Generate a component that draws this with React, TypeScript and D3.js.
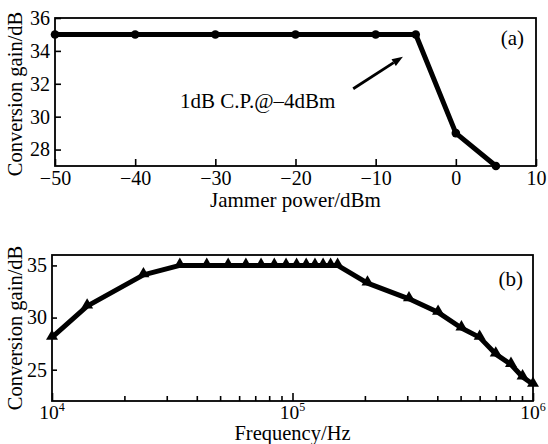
import React, { useEffect, useRef } from "react";
import {
  select,
  scaleLinear,
  scaleLog,
  axisBottom,
  axisLeft,
  line,
  symbol,
  symbolTriangle,
} from "d3";

// panel (a): gain vs jammer power
const jammerPower = [-50, -40, -30, -20, -10, -5, 0, 5];
const gainJammer = [35, 35, 35, 35, 35, 35, 29, 27];
const powerTicks = [-50, -40, -30, -20, -10, 0, 10];
const gainTicksA = [28, 30, 32, 34, 36];

// panel (b): gain vs frequency
const frequency = [
  10000, 14000, 24000, 34000, 44000, 54000, 64000, 74000, 84000, 94000,
  104000, 114000, 124000, 134000, 144000, 154000, 205000, 305000, 403000,
  504000, 600000, 700000, 810000, 905000, 1000000,
];
const gainFreq = [
  28.1, 31.1, 34.1, 35, 35, 35, 35, 35, 35, 35, 35, 35, 35, 35, 35, 35, 33.3,
  31.8, 30.5, 29.0, 28.1, 26.5, 25.5, 24.3, 23.6,
];
const freqMajor = [1e4, 1e5, 1e6];
const freqExp = ["4", "5", "6"];
const freqMinor = [
  2e4, 3e4, 4e4, 5e4, 6e4, 7e4, 8e4, 9e4, 2e5, 3e5, 4e5, 5e5, 6e5, 7e5, 8e5,
  9e5,
];
const gainTicksB = [25, 30, 35];

// annotation in panel (a), data units
const noteText = "1dB C.P.@\u20134dBm";
const notePos = [-34.4, 30.55];
const arrowFrom = [-12.8, 31.7];
const arrowTo = [-6.6, 33.65];

const W = 548;
const H = 444;
const FONT = "Liberation Serif, Times New Roman, Times, serif";
const A = { left: 55, right: 536, top: 18, bottom: 166 };
const B = { left: 52, right: 533, top: 255, bottom: 401 };

const App = () => {
  const svgRef = useRef(null);

  useEffect(() => {
    const svg = select(svgRef.current);
    svg.selectAll("*").remove();

    const styleAxis = (g) => {
      g.select(".domain").remove();
      g.selectAll(".tick line").attr("stroke", "#000").attr("stroke-width", 1.6);
      g.attr("font-family", FONT).attr("font-size", 20);
      g.selectAll(".tick text").attr("fill", "#000");
    };

    // ---------- (a) ----------
    const xA = scaleLinear().domain([-50, 10]).range([A.left, A.right]);
    const yA = scaleLinear().domain([27, 36]).range([A.bottom, A.top]);

    svg
      .append("g")
      .attr("transform", `translate(0,${A.bottom})`)
      .call(axisBottom(xA).tickValues(powerTicks).tickSize(-7).tickPadding(5))
      .call(styleAxis);
    svg
      .append("g")
      .attr("transform", `translate(${A.left},0)`)
      .call(axisLeft(yA).tickValues(gainTicksA).tickSize(-6).tickPadding(5))
      .call(styleAxis);

    svg
      .append("rect")
      .attr("x", A.left)
      .attr("y", A.top)
      .attr("width", A.right - A.left)
      .attr("height", A.bottom - A.top)
      .attr("fill", "none")
      .attr("stroke", "#000")
      .attr("stroke-width", 1.8);

    const lineA = line()
      .x((d, i) => xA(jammerPower[i]))
      .y((d) => yA(d));
    svg
      .append("path")
      .attr("d", lineA(gainJammer))
      .attr("fill", "none")
      .attr("stroke", "#000")
      .attr("stroke-width", 5)
      .attr("stroke-linejoin", "round");
    svg
      .selectAll(".dotA")
      .data(gainJammer)
      .join("circle")
      .attr("class", "dotA")
      .attr("cx", (d, i) => xA(jammerPower[i]))
      .attr("cy", (d) => yA(d))
      .attr("r", 4.3)
      .attr("fill", "#000");

    // arrow + note
    const ax0 = xA(arrowFrom[0]),
      ay0 = yA(arrowFrom[1]),
      ax1 = xA(arrowTo[0]),
      ay1 = yA(arrowTo[1]);
    const ang = Math.atan2(ay1 - ay0, ax1 - ax0);
    const hl = 11,
      hw = 4;
    const bx = ax1 - hl * Math.cos(ang),
      by = ay1 - hl * Math.sin(ang);
    svg
      .append("line")
      .attr("x1", ax0)
      .attr("y1", ay0)
      .attr("x2", bx)
      .attr("y2", by)
      .attr("stroke", "#000")
      .attr("stroke-width", 2.8);
    svg
      .append("path")
      .attr(
        "d",
        `M${ax1},${ay1}L${bx + hw * Math.sin(ang)},${by - hw * Math.cos(ang)}L${
          bx - hw * Math.sin(ang)
        },${by + hw * Math.cos(ang)}Z`
      )
      .attr("fill", "#000");
    svg
      .append("text")
      .attr("x", xA(notePos[0]))
      .attr("y", yA(notePos[1]))
      .attr("font-family", FONT)
      .attr("font-size", 21)
      .text(noteText);

    svg
      .append("text")
      .attr("x", A.right - 12)
      .attr("y", A.top + 27)
      .attr("text-anchor", "end")
      .attr("font-family", FONT)
      .attr("font-size", 21)
      .text("(a)");

    svg
      .append("text")
      .attr("transform", `translate(22,${(A.top + A.bottom) / 2 + 2}) rotate(-90)`)
      .attr("text-anchor", "middle")
      .attr("font-family", FONT)
      .attr("font-size", 20.5)
      .text("Conversion gain/dB");
    svg
      .append("text")
      .attr("x", (A.left + A.right) / 2)
      .attr("y", 207)
      .attr("text-anchor", "middle")
      .attr("font-family", FONT)
      .attr("font-size", 21)
      .text("Jammer power/dBm");

    // ---------- (b) ----------
    const xB = scaleLog().domain([1e4, 1e6]).range([B.left, B.right]);
    const yB = scaleLinear().domain([22, 36]).range([B.bottom, B.top]);

    svg
      .append("g")
      .attr("transform", `translate(0,${B.bottom})`)
      .call(axisBottom(xB).tickValues(freqMinor).tickSize(-5).tickFormat(() => ""))
      .call(styleAxis);
    svg
      .append("g")
      .attr("transform", `translate(0,${B.bottom})`)
      .call(axisBottom(xB).tickValues(freqMajor).tickSize(-8).tickFormat(() => ""))
      .call(styleAxis);
    svg
      .append("g")
      .attr("transform", `translate(${B.left},0)`)
      .call(axisLeft(yB).tickValues(gainTicksB).tickSize(-5).tickPadding(5))
      .call(styleAxis);

    const lbl = svg
      .selectAll(".lblB")
      .data(freqMajor)
      .join("text")
      .attr("class", "lblB")
      .attr("x", (d) => xB(d))
      .attr("y", 419)
      .attr("text-anchor", "middle")
      .attr("font-family", FONT)
      .attr("font-size", 19.5);
    lbl.append("tspan").text("10");
    lbl
      .append("tspan")
      .attr("dy", -8)
      .attr("font-size", 12)
      .text((d, i) => freqExp[i]);

    svg
      .append("rect")
      .attr("x", B.left)
      .attr("y", B.top)
      .attr("width", B.right - B.left)
      .attr("height", B.bottom - B.top)
      .attr("fill", "none")
      .attr("stroke", "#000")
      .attr("stroke-width", 1.8);

    const lineB = line()
      .x((d, i) => xB(frequency[i]))
      .y((d) => yB(d));
    svg
      .append("path")
      .attr("d", lineB(gainFreq))
      .attr("fill", "none")
      .attr("stroke", "#000")
      .attr("stroke-width", 5)
      .attr("stroke-linejoin", "round");

    const tri = symbol().type(symbolTriangle).size(62);
    svg
      .selectAll(".triB")
      .data(gainFreq)
      .join("path")
      .attr("class", "triB")
      .attr("d", tri)
      .attr("fill", "#000")
      .attr("transform", (d, i) => `translate(${xB(frequency[i])},${yB(d) - 1})`);

    svg
      .append("text")
      .attr("x", B.right - 10)
      .attr("y", B.top + 31)
      .attr("text-anchor", "end")
      .attr("font-family", FONT)
      .attr("font-size", 21)
      .text("(b)");

    svg
      .append("text")
      .attr("transform", `translate(22,${(B.top + B.bottom) / 2}) rotate(-90)`)
      .attr("text-anchor", "middle")
      .attr("font-family", FONT)
      .attr("font-size", 20.5)
      .text("Conversion gain/dB");
    svg
      .append("text")
      .attr("x", (B.left + B.right) / 2)
      .attr("y", 440)
      .attr("text-anchor", "middle")
      .attr("font-family", FONT)
      .attr("font-size", 20.5)
      .text("Frequency/Hz");
  }, []);

  return (
    <svg
      ref={svgRef}
      width={W}
      height={H}
      style={{ position: "absolute", left: 0, top: 0, background: "#fff" }}
    />
  );
};

export default App;
